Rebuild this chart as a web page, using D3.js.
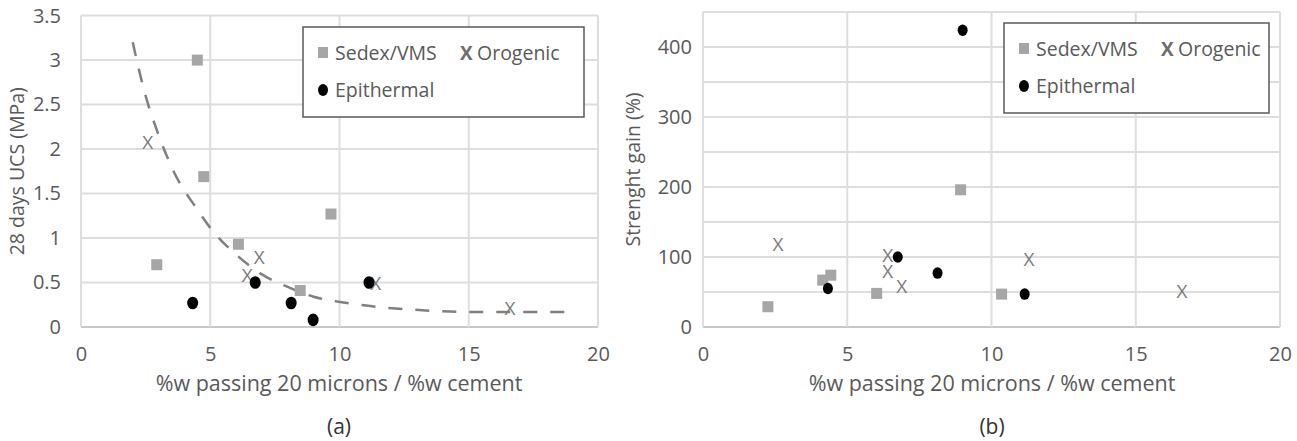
<!DOCTYPE html>
<html>
<head>
<meta charset="utf-8">
<script src="https://cdn.jsdelivr.net/npm/d3@7"></script>
<style>
  body { margin: 0; background: #fff; }
  svg text { font-family: "Open Sans", sans-serif; fill: #595959; }
</style>
</head>
<body>
<svg id="chart" width="1297" height="441"></svg>
<script>
'use strict';

/* Data */

// (a) 28 days UCS (MPa)
var ucsSedex = [[2.93, 0.70], [4.5, 3.0], [4.75, 1.69], [6.09, 0.93], [8.48, 0.41], [9.67, 1.27]]
var ucsOrogenic = [[2.58, 2.08], [6.43, 0.59], [6.9, 0.79], [11.4, 0.5], [16.6, 0.21]]
var ucsEpithermal = [[4.32, 0.27], [6.74, 0.5], [8.13, 0.27], [8.98, 0.08], [11.14, 0.5]]
// dashed trend line, as drawn
var ucsTrend = [[2.0, 3.2], [2.45, 2.65], [3.0, 2.16], [3.6, 1.74], [4.5, 1.32], [5.15, 1.06],
  [5.9, 0.84], [6.95, 0.6], [8.0, 0.45], [9.0, 0.34], [10.3, 0.27], [11.5, 0.225],
  [12.6, 0.2], [13.75, 0.18], [14.9, 0.17], [16.1, 0.17], [17.4, 0.168], [18.7, 0.168]]

// (b) Strenght gain (%)
var gainSedex = [[2.25, 29], [4.15, 67], [4.43, 74], [6.02, 48], [8.93, 196], [10.35, 47]]
var gainOrogenic = [[2.6, 119], [6.4, 103], [6.4, 80], [6.89, 59], [11.3, 97], [16.6, 51]]
var gainEpithermal = [[4.33, 55], [6.75, 100], [8.13, 77], [9.0, 424], [11.15, 47]]

var xTicks = [0, 5, 10, 15, 20]
var ucsTicks = [0, 0.5, 1, 1.5, 2, 2.5, 3, 3.5]
var gainGrid = [0, 50, 100, 150, 200, 250, 300, 350, 400, 450]
var gainTicks = [0, 100, 200, 300, 400]

var xTitle = '%w passing 20 microns / %w cement'
var legendNames = ['Sedex/VMS', 'Orogenic', 'Epithermal']

var svg = d3.select('#chart')
svg.append('rect').attr('width', 1297).attr('height', 441).attr('fill', '#fff')

function panel(opt) {
  var x = d3.scaleLinear().domain([0, 20]).range(opt.xRange)
  var y = d3.scaleLinear().domain(opt.yDomain).range(opt.yRange)
  var g = svg.append('g')

  // grid
  g.append('g').selectAll('line.h')
    .data(opt.yGrid)
    .enter().append('line')
      .attr('x1', x(0)).attr('x2', x(20))
      .attr('y1', function(d){ return y(d) }).attr('y2', function(d){ return y(d) })
      .attr('stroke', function(d){ return d === 0 ? '#c8c8c8' : '#dedede' })
      .attr('stroke-width', 2)
  g.append('g').selectAll('line.v')
    .data(xTicks)
    .enter().append('line')
      .attr('y1', y(0)).attr('y2', y(opt.yDomain[1]))
      .attr('x1', function(d){ return x(d) }).attr('x2', function(d){ return x(d) })
      .attr('stroke', '#dedede')
      .attr('stroke-width', 2)

  // axes labels
  var fmt = function(d){ return String(d) }
  var xAxis = d3.axisBottom(x).tickValues(xTicks).tickSize(0).tickPadding(0).tickFormat(fmt)
  var yAxis = d3.axisLeft(y).tickValues(opt.yTicks).tickSize(0).tickPadding(0).tickFormat(fmt)
  var gx = g.append('g').attr('transform', 'translate(0,' + (y(0) + 34) + ')').call(xAxis)
  var gy = g.append('g').attr('transform', 'translate(' + (x(0) - opt.yPad) + ',0)').call(yAxis)
  gx.select('.domain').remove()
  gy.select('.domain').remove()
  g.selectAll('.tick text')
    .style('font-family', '"Open Sans", sans-serif')
    .style('font-size', '20px')
    .attr('fill', '#595959')
  gx.selectAll('.tick text').attr('dy', '0')

  g.append('text')
    .attr('x', opt.titleX).attr('y', 391)
    .attr('text-anchor', 'middle')
    .style('font-size', '21.5px')
    .text(xTitle)
  g.append('text')
    .attr('x', opt.titleX).attr('y', 434)
    .attr('text-anchor', 'middle')
    .style('font-size', '21px')
    .style('fill', '#333')
    .text(opt.caption)
  g.append('text')
    .attr('transform', 'translate(' + opt.yTitleX + ',' + ((y.range()[0] + y.range()[1]) / 2) + ') rotate(-90)')
    .attr('text-anchor', 'middle')
    .style('font-size', '19.5px')
    .text(opt.yTitle)

  // trend
  if (opt.trend) {
    var line = d3.line()
      .x(function(d){ return x(d[0]) })
      .y(function(d){ return y(d[1]) })
      .curve(d3.curveMonotoneX)
    g.append('path')
      .datum(opt.trend)
      .attr('fill', 'none')
      .attr('stroke', '#808080')
      .attr('stroke-width', 2.5)
      .attr('stroke-dasharray', '14,13')
      .attr('d', line)
  }

  // markers
  var s = opt.square
  g.append('g').selectAll('rect')
    .data(opt.sedex)
    .enter().append('rect')
      .attr('x', function(d){ return x(d[0]) - s / 2 })
      .attr('y', function(d){ return y(d[1]) - s / 2 })
      .attr('width', s).attr('height', s)
      .attr('fill', '#a6a6a6')
  g.append('g').selectAll('text')
    .data(opt.orogenic)
    .enter().append('text')
      .attr('x', function(d){ return x(d[0]) })
      .attr('y', function(d){ return y(d[1]) + 7 })
      .attr('text-anchor', 'middle')
      .style('font-size', '19px')
      .style('fill', '#7a7a7a')
      .text('X')
  g.append('g').selectAll('ellipse')
    .data(opt.epithermal)
    .enter().append('ellipse')
      .attr('cx', function(d){ return x(d[0]) })
      .attr('cy', function(d){ return y(d[1]) })
      .attr('rx', opt.dot).attr('ry', opt.dot * 1.15)
      .attr('fill', '#000')

  // legend
  var L = opt.legend
  var lg = g.append('g').attr('transform', 'translate(' + L[0] + ',' + L[1] + ')')
  lg.append('rect')
    .attr('width', L[2]).attr('height', L[3])
    .attr('fill', '#fff')
    .attr('stroke', '#595959')
    .attr('stroke-width', 1.5)
  lg.append('rect').attr('x', 15).attr('y', 20).attr('width', 10).attr('height', 11).attr('fill', '#a6a6a6')
  lg.append('text').attr('x', 32).attr('y', 33).style('font-size', '19.5px').text(legendNames[0])
  lg.append('text').attr('x', L[4]).attr('y', 33).style('font-size', '19px')
    .style('fill', '#6e6e6e').style('font-weight', 'bold').text('X')
  lg.append('text').attr('x', L[4] + 17).attr('y', 33).style('font-size', '19.5px').text(legendNames[1])
  lg.append('ellipse').attr('cx', 20).attr('cy', 63).attr('rx', 5).attr('ry', 6).attr('fill', '#000')
  lg.append('text').attr('x', 32).attr('y', 70).style('font-size', '19.5px').text(legendNames[2])
}

panel({
  xRange: [81, 598], yDomain: [0, 3.5], yRange: [327, 15.6],
  yGrid: ucsTicks, yTicks: ucsTicks, yPad: 20,
  titleX: 339, caption: '(a)', yTitleX: 24, yTitle: '28 days UCS (MPa)',
  sedex: ucsSedex, orogenic: ucsOrogenic, epithermal: ucsEpithermal, trend: ucsTrend,
  square: 11, dot: 5.5,
  legend: [303, 27, 281, 90, 157]
})

panel({
  xRange: [703, 1280], yDomain: [0, 450], yRange: [327, 12],
  yGrid: gainGrid, yTicks: gainTicks, yPad: 11,
  titleX: 992, caption: '(b)', yTitleX: 640, yTitle: 'Strenght gain (%)',
  sedex: gainSedex, orogenic: gainOrogenic, epithermal: gainEpithermal, trend: null,
  square: 11, dot: 5,
  legend: [1004, 23, 265, 90, 157]
})
</script>
</body>
</html>
